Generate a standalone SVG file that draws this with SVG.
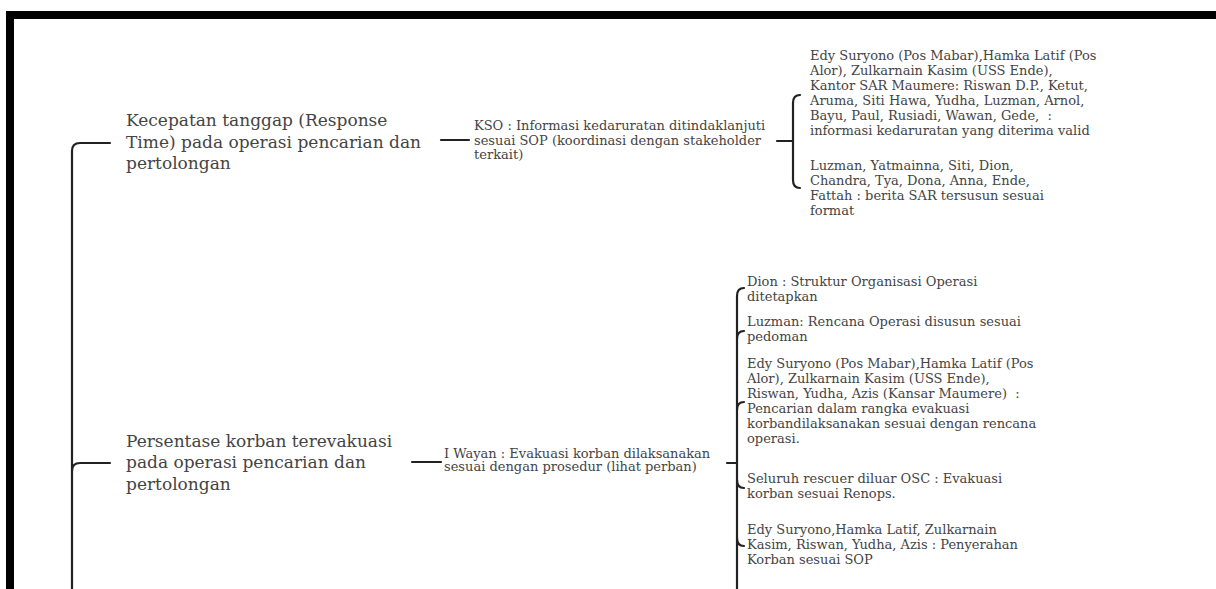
<svg xmlns="http://www.w3.org/2000/svg" width="1216" height="589" viewBox="0 0 1216 589">
<style>
.c{fill:none;stroke:#222;stroke-width:2.2;stroke-linecap:round;stroke-linejoin:round}
.t1{font-family:"DejaVu Serif","Liberation Serif",serif;font-size:17px;fill:#444}
.t2{font-family:"DejaVu Serif","Liberation Serif",serif;font-size:13px;fill:#444}
.t3{font-family:"DejaVu Serif","Liberation Serif",serif;font-size:13px;fill:#444}
</style>
<rect width="1216" height="589" fill="#fff"/>
<g id="frame">
<rect x="6" y="11" width="1210" height="8" fill="#000"/>
<rect x="6" y="11" width="8" height="578" fill="#000"/>
</g>
<g id="connectors">
<path class="c" d="M110 143 H80 Q72 143 72 151 V589"/>
<path class="c" d="M110 463 H80 Q72 463 72 471"/>
<path class="c" d="M441 140 H469"/>
<path class="c" d="M777 141 H793"/>
<path class="c" d="M800 95 Q793 95 793 103 V180 Q793 188 800 188"/>
<path class="c" d="M412 462 H441"/>
<path class="c" d="M727 463 H737"/>
<path class="c" d="M744 288 Q737 288 737 296 V589"/>
<path class="c" d="M744 331 Q737 331 737 339"/>
<path class="c" d="M744 402 Q737 402 737 410"/>
<path class="c" d="M744 488 Q737 488 737 480"/>
<path class="c" d="M744 546 Q737 546 737 538"/>
</g>
<g id="n1">
<text class="t1" x="126" y="126">Kecepatan tanggap (Response</text>
<text class="t1" x="126" y="148">Time) pada operasi pencarian dan</text>
<text class="t1" x="126" y="169">pertolongan</text>
</g>
<g id="n1a">
<text class="t2" x="474" y="130">KSO : Informasi kedaruratan ditindaklanjuti</text>
<text class="t2" x="474" y="145">sesuai SOP (koordinasi dengan stakeholder</text>
<text class="t2" x="474" y="159">terkait)</text>
</g>
<g id="n1a1">
<text class="t2" x="810" y="60">Edy Suryono (Pos Mabar),Hamka Latif (Pos</text>
<text class="t2" x="810" y="75">Alor), Zulkarnain Kasim (USS Ende),</text>
<text class="t2" x="810" y="90">Kantor SAR Maumere: Riswan D.P., Ketut,</text>
<text class="t2" x="810" y="105">Aruma, Siti Hawa, Yudha, Luzman, Arnol,</text>
<text class="t2" x="810" y="120" xml:space="preserve">Bayu, Paul, Rusiadi, Wawan, Gede,  :</text>
<text class="t2" x="810" y="135">informasi kedaruratan yang diterima valid</text>
</g>
<g id="n1a2">
<text class="t2" x="810" y="170">Luzman, Yatmainna, Siti, Dion,</text>
<text class="t2" x="810" y="185">Chandra, Tya, Dona, Anna, Ende,</text>
<text class="t2" x="810" y="200">Fattah : berita SAR tersusun sesuai</text>
<text class="t2" x="810" y="215">format</text>
</g>
<g id="n2">
<text class="t1" x="126" y="447">Persentase korban terevakuasi</text>
<text class="t1" x="126" y="468">pada operasi pencarian dan</text>
<text class="t1" x="126" y="490">pertolongan</text>
</g>
<g id="n2a">
<text class="t3" x="444" y="458">I Wayan : Evakuasi korban dilaksanakan</text>
<text class="t3" x="444" y="471">sesuai dengan prosedur (lihat perban)</text>
</g>
<g id="n2a1">
<text class="t2" x="747" y="286">Dion : Struktur Organisasi Operasi</text>
<text class="t2" x="747" y="301">ditetapkan</text>
</g>
<g id="n2a2">
<text class="t2" x="747" y="326">Luzman: Rencana Operasi disusun sesuai</text>
<text class="t2" x="747" y="341">pedoman</text>
</g>
<g id="n2a3">
<text class="t2" x="747" y="368">Edy Suryono (Pos Mabar),Hamka Latif (Pos</text>
<text class="t2" x="747" y="383">Alor), Zulkarnain Kasim (USS Ende),</text>
<text class="t2" x="747" y="398" xml:space="preserve">Riswan, Yudha, Azis (Kansar Maumere)  :</text>
<text class="t2" x="747" y="413">Pencarian dalam rangka evakuasi</text>
<text class="t2" x="747" y="428">korbandilaksanakan sesuai dengan rencana</text>
<text class="t2" x="747" y="443">operasi.</text>
</g>
<g id="n2a4">
<text class="t2" x="747" y="483">Seluruh rescuer diluar OSC : Evakuasi</text>
<text class="t2" x="747" y="498">korban sesuai Renops.</text>
</g>
<g id="n2a5">
<text class="t2" x="747" y="534">Edy Suryono,Hamka Latif, Zulkarnain</text>
<text class="t2" x="747" y="549">Kasim, Riswan, Yudha, Azis : Penyerahan</text>
<text class="t2" x="747" y="564">Korban sesuai SOP</text>
</g>
</svg>
